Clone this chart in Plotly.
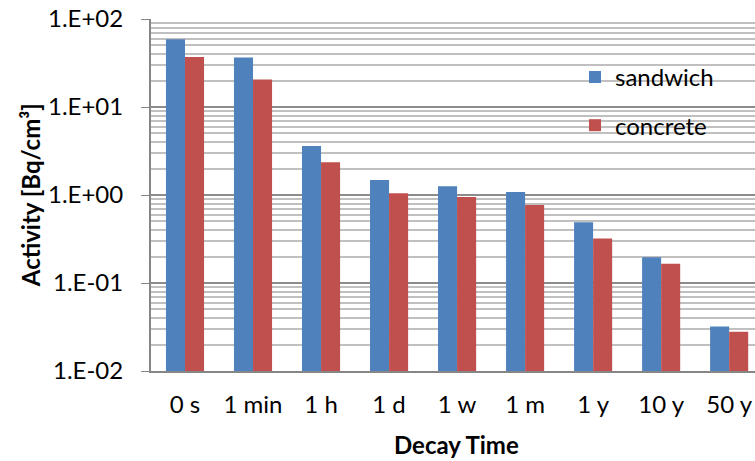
import plotly.graph_objects as go

categories = ["0 s", "1 min", "1 h", "1 d", "1 w", "1 m", "1 y", "10 y", "50 y"]
sandwich = [59, 36.5, 3.6, 1.48, 1.26, 1.08, 0.49, 0.196, 0.032]
concrete = [37, 20.6, 2.35, 1.05, 0.95, 0.77, 0.32, 0.166, 0.028]
y_ticks = [0.01, 0.1, 1, 10, 100]
y_tick_labels = ["1.E-02", "1.E-01", "1.E+00", "1.E+01", "1.E+02"]

FONT = "Lato, Carlito, 'Liberation Sans', sans-serif"
FS = 24

fig = go.Figure()
fig.add_trace(go.Bar(name="sandwich", x=categories, y=sandwich,
                     marker=dict(color="#4F81BD", line=dict(width=0)),
                     legendgroup="a"))
fig.add_trace(go.Bar(name="concrete", x=categories, y=concrete,
                     marker=dict(color="#C0504D", line=dict(width=0)),
                     legendgroup="b"))

fig.update_layout(
    width=755, height=461,
    margin=dict(l=151, r=0, t=19, b=90),
    paper_bgcolor="white", plot_bgcolor="white",
    font=dict(family=FONT, size=FS, color="#000000"),
    barmode="group", bargap=0.44, bargroupgap=0,
    showlegend=True,
    legend=dict(x=0.702, y=0.898, xanchor="left", yanchor="top",
                bgcolor="rgba(0,0,0,0)", font=dict(size=FS),
                tracegroupgap=14, traceorder="grouped"),
    xaxis=dict(
        type="category", range=[-0.5, 8.38],
        showline=True, linecolor="#868686", linewidth=2,
        ticks="", showgrid=False, ticklabelstandoff=11,
        tickfont=dict(size=FS),
    ),
    yaxis=dict(
        type="log", range=[-2, 2],
        tickvals=y_ticks, ticktext=y_tick_labels,
        ticks="outside", ticklen=8, tickcolor="#868686", tickwidth=1,
        ticklabelstandoff=13,
        showline=True, linecolor="#868686", linewidth=2,
        showgrid=True, gridcolor="#8C8C8C", gridwidth=2,
        minor=dict(dtick="D1", showgrid=True, gridcolor="#C0C0C0",
                   gridwidth=2, ticks=""),
        tickfont=dict(size=FS),
        zeroline=False,
    ),
    annotations=[
        dict(text="<b>Activity [Bq/cm³]</b>", xref="paper", yref="paper",
             x=-0.2, y=0.5, xanchor="center", yanchor="middle",
             textangle=-90, showarrow=False, font=dict(size=FS)),
        dict(text="<b>Decay Time</b>", xref="paper", yref="paper",
             x=0.5066, y=-0.21, xanchor="center", yanchor="middle",
             showarrow=False, font=dict(size=FS)),
    ],
)

fig.write_html("out.html")
